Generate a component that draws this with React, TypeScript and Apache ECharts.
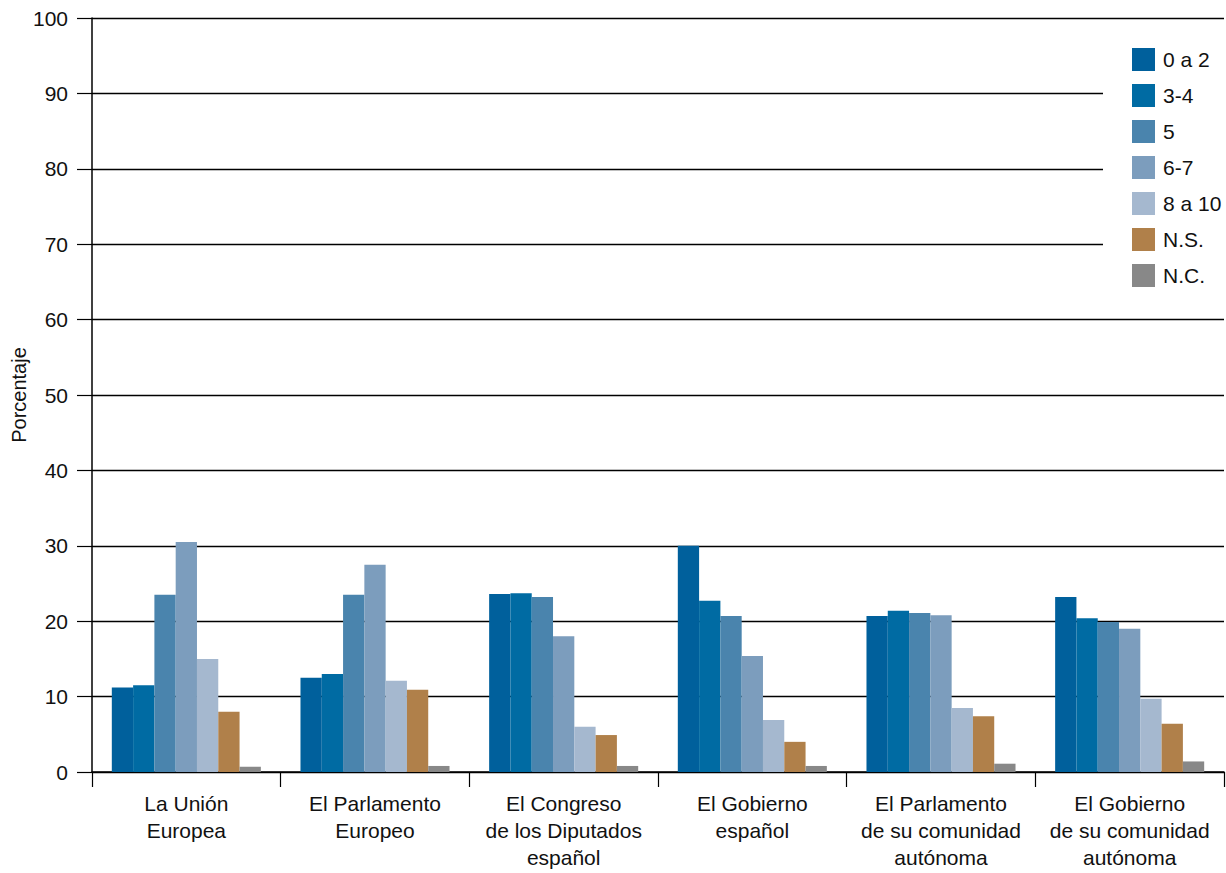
import React, { useEffect, useRef } from "react";
import * as echarts from "echarts";

const categories = [
  "La Unión\nEuropea",
  "El Parlamento\nEuropeo",
  "El Congreso\nde los Diputados\nespañol",
  "El Gobierno\nespañol",
  "El Parlamento\nde su comunidad\nautónoma",
  "El Gobierno\nde su comunidad\nautónoma",
];

const seriesNames = ["0 a 2", "3-4", "5", "6-7", "8 a 10", "N.S.", "N.C."];

const s0a2 = [11.2, 12.5, 23.6, 30.0, 20.7, 23.2];
const s34 = [11.5, 13.0, 23.7, 22.7, 21.4, 20.4];
const s5 = [23.5, 23.5, 23.2, 20.7, 21.1, 19.9];
const s67 = [30.5, 27.5, 18.0, 15.4, 20.8, 19.0];
const s810 = [15.0, 12.1, 6.0, 6.9, 8.5, 9.7];
const sNS = [8.0, 10.9, 4.9, 4.0, 7.4, 6.4];
const sNC = [0.7, 0.8, 0.8, 0.8, 1.1, 1.4];

const seriesData = [s0a2, s34, s5, s67, s810, sNS, sNC];
const colors = ["#00609C", "#006BA3", "#4A84AD", "#7C9DBD", "#A5B8CF", "#B0804A", "#888888"];

const yTicks = [0, 10, 20, 30, 40, 50, 60, 70, 80, 90, 100];

export default function App() {
  const ref = useRef<HTMLDivElement>(null);
  useEffect(() => {
    if (!ref.current) return;
    const chart = echarts.init(ref.current, undefined, { renderer: "svg" });
    const font = "'Liberation Sans', Arial, sans-serif";
    chart.setOption({
      animation: false,
      textStyle: { fontFamily: font },
      grid: {
        left: 92,
        top: 18,
        right: 2,
        bottom: 101,
        containLabel: false,
        outerBoundsMode: "none",
      },
      legend: {
        orient: "vertical",
        left: 1103,
        top: 34,
        padding: [14, 20, 14, 29],
        backgroundColor: "#fff",
        itemWidth: 23,
        itemHeight: 23,
        itemGap: 13,
        icon: "rect",
        textStyle: { fontSize: 21, color: "#111", fontFamily: font, padding: [0, 0, 0, 3] },
        data: seriesNames,
      },
      xAxis: {
        type: "category",
        data: categories,
        axisLine: { show: true, lineStyle: { color: "#000", width: 1.5 } },
        axisTick: { show: true, length: 15, lineStyle: { color: "#000", width: 1.2 } },
        axisLabel: {
          fontSize: 21,
          color: "#111",
          lineHeight: 27,
          margin: 18,
          interval: 0,
          fontFamily: font,
        },
      },
      yAxis: {
        type: "value",
        min: 0,
        max: 100,
        interval: 10,
        name: "Porcentaje",
        nameLocation: "middle",
        nameGap: 63,
        nameMoveOverlap: false,
        nameTextStyle: { fontSize: 20, color: "#111", fontFamily: font },
        axisLine: { show: true, lineStyle: { color: "#000", width: 1.5 } },
        axisTick: { show: true, length: 15, lineStyle: { color: "#000", width: 1.2 } },
        axisLabel: {
          fontSize: 21,
          color: "#111",
          margin: 24,
          fontFamily: font,
          formatter: (v: number) => (yTicks.includes(v) ? String(v) : ""),
        },
        splitLine: { show: true, lineStyle: { color: "#000", width: 1.3 } },
      },
      series: seriesNames.map((name, i) => ({
        name,
        type: "bar",
        data: seriesData[i],
        barGap: "0%",
        barCategoryGap: "21%",
        itemStyle: { color: colors[i] },
      })),
    });
    return () => chart.dispose();
  }, []);
  return (
    <div
      ref={ref}
      style={{ position: "fixed", left: 0, top: 0, width: 1226, height: 873, background: "#fff" }}
    />
  );
}
